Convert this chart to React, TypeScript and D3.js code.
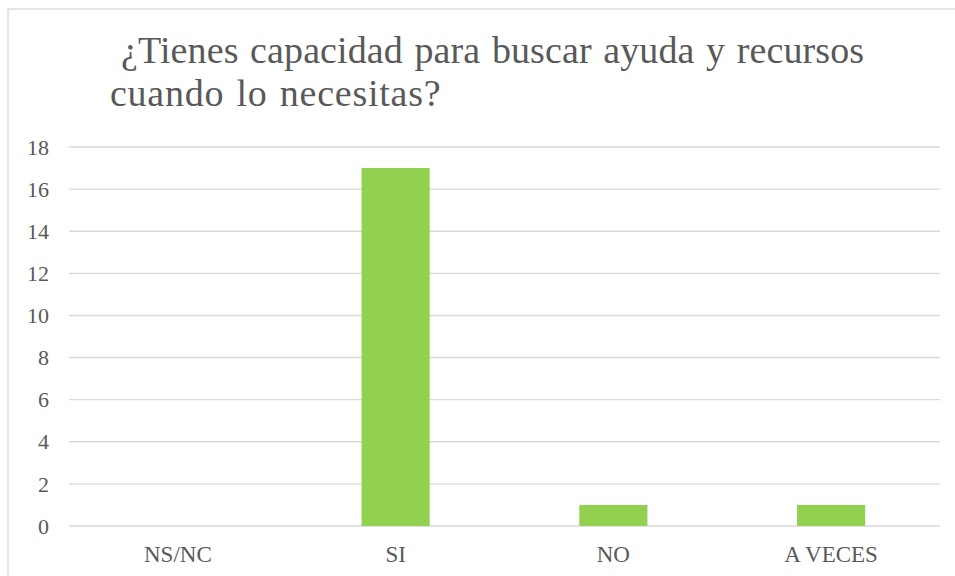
import React from "react";
import * as d3 from "d3";

const categories = ["NS/NC", "SI", "NO", "A VECES"];
const values = [0, 17, 1, 1];
const yTicks = [0, 2, 4, 6, 8, 10, 12, 14, 16, 18];
const titleLines = ["¿Tienes capacidad para buscar ayuda y recursos", "cuando lo necesitas?"];

export default function App() {
  const W = 955, H = 576;
  const left = 69, right = 940, top = 147, bottom = 526;
  const x = d3.scaleBand<string>().domain(categories).range([left, right]).paddingInner(0.687).paddingOuter(0.3435);
  const y = d3.scaleLinear().domain([0, 18]).range([bottom, top]);
  const font = "'Liberation Serif', 'Times New Roman', serif";
  const txt = "#595959";
  return (
    <svg width={W} height={H} style={{ position: "absolute", left: 0, top: 0, display: "block" }}>
      <rect x={0} y={0} width={W} height={H} fill="#fff" />
      <rect x={8} y={9} width={W + 20} height={H + 20} fill="#fff" stroke="#d9d9d9" strokeWidth={1.3} />
      <text x={121} y={63} style={{ fontFamily: font, fontSize: "38px", wordSpacing: "2px", letterSpacing: "0.1px" }} fill={txt}>{titleLines[0]}</text>
      <text x={110} y={106} style={{ fontFamily: font, fontSize: "38px", wordSpacing: "2px", letterSpacing: "0.75px" }} fill={txt}>{titleLines[1]}</text>
      {yTicks.map((t) => (
        <g key={t}>
          <line x1={left} x2={right} y1={y(t)} y2={y(t)} stroke="#d9d9d9" strokeWidth={1.4} />
          <text x={49} y={y(t)} dy="0.35em" textAnchor="end" fontFamily={font} fontSize={22} fill={txt}>{t}</text>
        </g>
      ))}
      {categories.map((c, i) => (
        <g key={c}>
          {values[i] > 0 && (
            <rect x={x(c)} y={y(values[i])} width={x.bandwidth()} height={y(0) - y(values[i])} fill="#92d050" />
          )}
          <text x={(x(c) as number) + x.bandwidth() / 2} y={562} textAnchor="middle" fontFamily={font} fontSize={23} fill={txt}>{c}</text>
        </g>
      ))}
    </svg>
  );
}
